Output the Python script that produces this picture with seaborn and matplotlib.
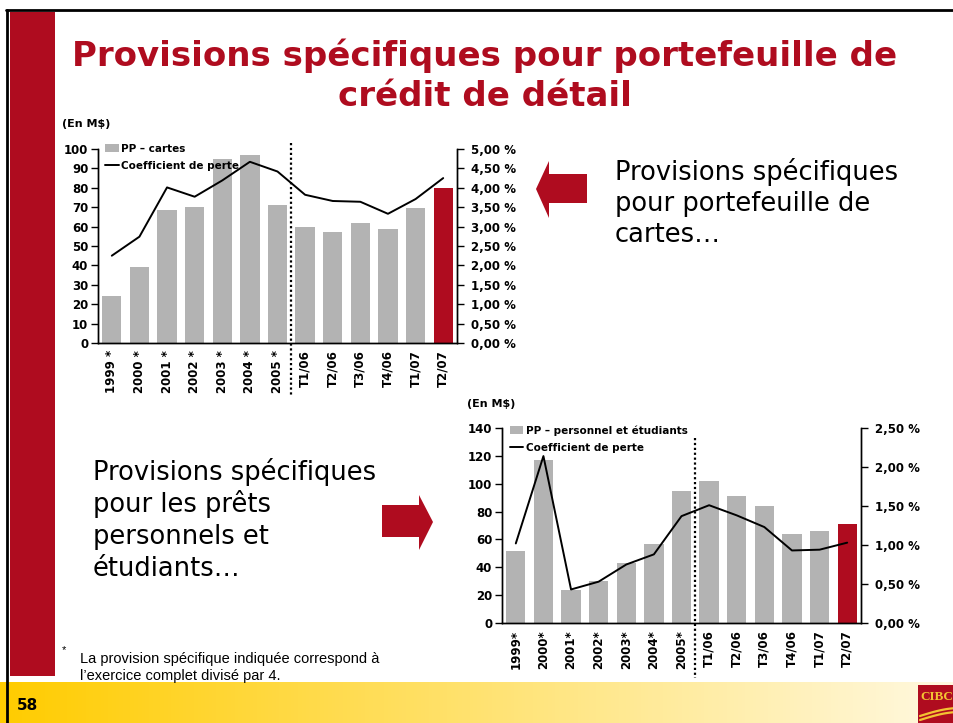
import numpy as np
import pandas as pd
import matplotlib
matplotlib.use("Agg")
import matplotlib.pyplot as plt
import seaborn as sns
from matplotlib.patches import Patch, Polygon, Rectangle
from matplotlib.lines import Line2D

# ---------------- data ----------------
cards_periods = ["1999 *", "2000 *", "2001 *", "2002 *", "2003 *", "2004 *", "2005 *",
                 "T1/06", "T2/06", "T3/06", "T4/06", "T1/07", "T2/07"]
cards_pp = [24, 39, 68.5, 70, 95, 97, 71, 60, 57, 62, 59, 69.5, 80]
cards_ratio = [2.25, 2.74, 4.01, 3.77, 4.19, 4.67, 4.42, 3.82, 3.66, 3.64, 3.33, 3.71, 4.25]

pers_periods = ["1999*", "2000*", "2001*", "2002*", "2003*", "2004*", "2005*",
                "T1/06", "T2/06", "T3/06", "T4/06", "T1/07", "T2/07"]
pers_pp = [52, 117, 23.5, 30, 43, 57, 95, 102, 91, 84, 64, 66, 71]
pers_ratio = [1.02, 2.14, 0.43, 0.53, 0.75, 0.88, 1.37, 1.51, 1.38, 1.23, 0.93, 0.94, 1.03]

cards_left_ticks = [0, 10, 20, 30, 40, 50, 60, 70, 80, 90, 100]
cards_right_ticks = [0.0, 0.5, 1.0, 1.5, 2.0, 2.5, 3.0, 3.5, 4.0, 4.5, 5.0]
pers_left_ticks = [0, 20, 40, 60, 80, 100, 120, 140]
pers_right_ticks = [0.0, 0.5, 1.0, 1.5, 2.0, 2.5]

first_quarter = "T1/06"

title_lines = ["Provisions spécifiques pour portefeuille de", "crédit de détail"]
cards_note = ["Provisions spécifiques", "pour portefeuille de", "cartes…"]
pers_note = ["Provisions spécifiques", "pour les prêts", "personnels et", "étudiants…"]
footnote = ["La provision spécifique indiquée correspond à", "l’exercice complet divisé par 4."]

# ---------------- style ----------------
W, H = 954, 723
RED = "#AF0C1F"
GRAY = "#B3B3B3"

sns.set_style("white")
plt.rcParams["font.family"] = ["DejaVu Sans"]
plt.rcParams["text.color"] = "black"
plt.rcParams["axes.labelcolor"] = "black"
plt.rcParams["xtick.color"] = "black"
plt.rcParams["ytick.color"] = "black"

fig = plt.figure(figsize=(W / 100, H / 100), dpi=100)


def fx(x):
    return x / W


def fy(y):
    return 1 - y / H


def pct(v):
    return f"{v:.2f}".replace(".", ",") + " %"


def add_chart(rect_px, periods, pp, ratio, lticks, rticks, legend_label,
              leg_xy, dot_span, fs=8.5):
    l, t, r, b = rect_px
    ax = fig.add_axes([fx(l), fy(b), (r - l) / W, (b - t) / H])
    df = pd.DataFrame({"period": periods, "pp": pp, "ratio": ratio})
    df["pos"] = np.arange(len(df))
    palette = [GRAY] * (len(periods) - 1) + [RED]
    sns.barplot(data=df, x="period", y="pp", hue="period", palette=palette,
                width=0.7, saturation=1, legend=False, ax=ax, linewidth=0)
    ax.set_ylim(lticks[0], lticks[-1])
    ax.set_yticks(lticks)
    ax.set_yticklabels([str(v) for v in lticks], fontweight="bold", fontsize=fs)
    ax.set_xticks(df["pos"])
    ax.set_xticklabels(periods, rotation=90, fontweight="bold", fontsize=fs)
    ax.set_xlabel("")
    ax.set_ylabel("")

    ax2 = ax.twinx()
    sns.lineplot(data=df, x="pos", y="ratio", color="black", lw=1.4, ax=ax2,
                 sort=False)
    ax2.set_ylim(rticks[0], rticks[-1])
    ax2.set_yticks(rticks)
    ax2.set_yticklabels([pct(v) for v in rticks], fontweight="bold", fontsize=fs)
    ax2.set_ylabel("")
    ax2.set_xlabel("")
    ax.set_xlim(-0.5, len(periods) - 0.5)

    for a in (ax, ax2):
        a.spines["top"].set_visible(False)
        for s in ("left", "right", "bottom"):
            a.spines[s].set_color("black")
            a.spines[s].set_linewidth(1.0)
    ax.tick_params(axis="y", left=True, direction="out", length=5, width=1,
                   color="black", pad=2)
    ax.tick_params(axis="x", bottom=False, length=0, pad=5)
    ax2.tick_params(axis="y", right=True, direction="out", length=5, width=1,
                    color="black", pad=5)

    split = periods.index(first_quarter) - 0.5
    ax2.plot([split, split], dot_span, transform=ax2.get_xaxis_transform(),
             color="black", lw=1.6, ls=(0, (1, 1.2)), clip_on=False)

    handles = [Patch(facecolor=GRAY, edgecolor="none", label=legend_label),
               Line2D([0], [0], color="black", lw=1.4, label="Coefficient de perte")]
    ax2.legend(handles=handles, loc="upper left", bbox_to_anchor=leg_xy,
               frameon=False, prop={"weight": "bold", "size": 7.5},
               handlelength=1.3, handleheight=0.9, handletextpad=0.2,
               labelspacing=0.7, borderpad=0, borderaxespad=0)
    return ax, ax2


# top chart: cards
add_chart((98, 149, 457, 343), cards_periods, cards_pp, cards_ratio,
          cards_left_ticks, cards_right_ticks, "PP – cartes",
          (0.02, 1.028), (1.03, -0.27))
# bottom chart: personal & student loans
add_chart((502, 428, 861, 623), pers_periods, pers_pp, pers_ratio,
          pers_left_ticks, pers_right_ticks, "PP – personnel et étudiants",
          (0.022, 1.015), (0.95, -0.28))

# units labels
fig.text(fx(62), fy(124), "(En M$)", fontsize=8, fontweight="bold", va="center")
fig.text(fx(467), fy(404), "(En M$)", fontsize=8, fontweight="bold", va="center")

# title
fig.text(fx(485), fy(56), title_lines[0], ha="center", va="center",
         color=RED, fontsize=24.5, fontweight="bold")
fig.text(fx(485), fy(97), title_lines[1], ha="center", va="center",
         color=RED, fontsize=24.5, fontweight="bold")

# side notes
for i, line in enumerate(cards_note):
    fig.text(fx(615), fy(180 + 31 * i), line, fontsize=18.5, va="baseline")
for i, line in enumerate(pers_note):
    fig.text(fx(93), fy(480 + 32 * i), line, fontsize=18.5, va="baseline")

# footnote
fig.text(fx(62), fy(650), "*", fontsize=8, va="center",
         family=["Liberation Sans"])
fig.text(fx(80), fy(663), footnote[0], fontsize=10.5, va="baseline",
         family=["Liberation Sans"])
fig.text(fx(80), fy(680), footnote[1], fontsize=10.5, va="baseline",
         family=["Liberation Sans"])

# arrows
left_arrow = [(536, 189), (549, 161), (549, 174), (587, 174), (587, 203),
              (549, 203), (549, 218)]
right_arrow = [(382, 505), (419, 505), (419, 495), (433, 522), (419, 550),
               (419, 537), (382, 537)]
for pts in (left_arrow, right_arrow):
    fig.add_artist(Polygon([(fx(x), fy(y)) for x, y in pts], closed=True,
                           facecolor=RED, edgecolor="none",
                           transform=fig.transFigure))

# red side bar
fig.add_artist(Rectangle((fx(10), fy(676)), fx(55) - fx(10), fy(12) - fy(676),
                         transform=fig.transFigure, facecolor=RED,
                         edgecolor="none", zorder=0))

# footer band with gradient
band = fig.add_axes([0, 0, 1, 1 - 682 / H])
band.set_axis_off()
c0 = np.array([1.0, 0.80, 0.0])
c1 = np.array([1.0, 0.975, 0.88])
tt = np.linspace(0, 1, 256)[None, :, None]
band.imshow(c0 + (c1 - c0) * tt, aspect="auto", extent=(0, 1, 0, 1))
band.set_xlim(0, 1)
band.set_ylim(0, 1)
fig.text(fx(17), fy(705), "58", fontsize=11, fontweight="bold", va="center")

# CIBC logo
fig.add_artist(Rectangle((fx(918), 0), 1 - fx(918), fy(685),
                         transform=fig.transFigure, facecolor=RED,
                         edgecolor="none", zorder=3))
fig.text(fx(920), fy(697), "CIBC", fontsize=9.5, fontweight="bold",
         color="#F3C332", va="center", family=["Liberation Serif"], zorder=4)
sw = np.linspace(0, 1, 30)
for off in (0, 4):
    xs = 920 + 40 * sw
    ys = 716 - 8 * np.sin(sw * np.pi / 2) + off
    fig.add_artist(Line2D(fx(xs), fy(ys), color="#F3C332", lw=1.6,
                          transform=fig.transFigure, zorder=4))

# black frame lines
fig.add_artist(Line2D([fx(6), 1], [fy(10), fy(10)], color="black", lw=2,
                      transform=fig.transFigure, zorder=5))
fig.add_artist(Line2D([fx(7), fx(7)], [0, fy(10)], color="black", lw=2,
                      transform=fig.transFigure, zorder=5))

fig.savefig("out.png", dpi=100)
